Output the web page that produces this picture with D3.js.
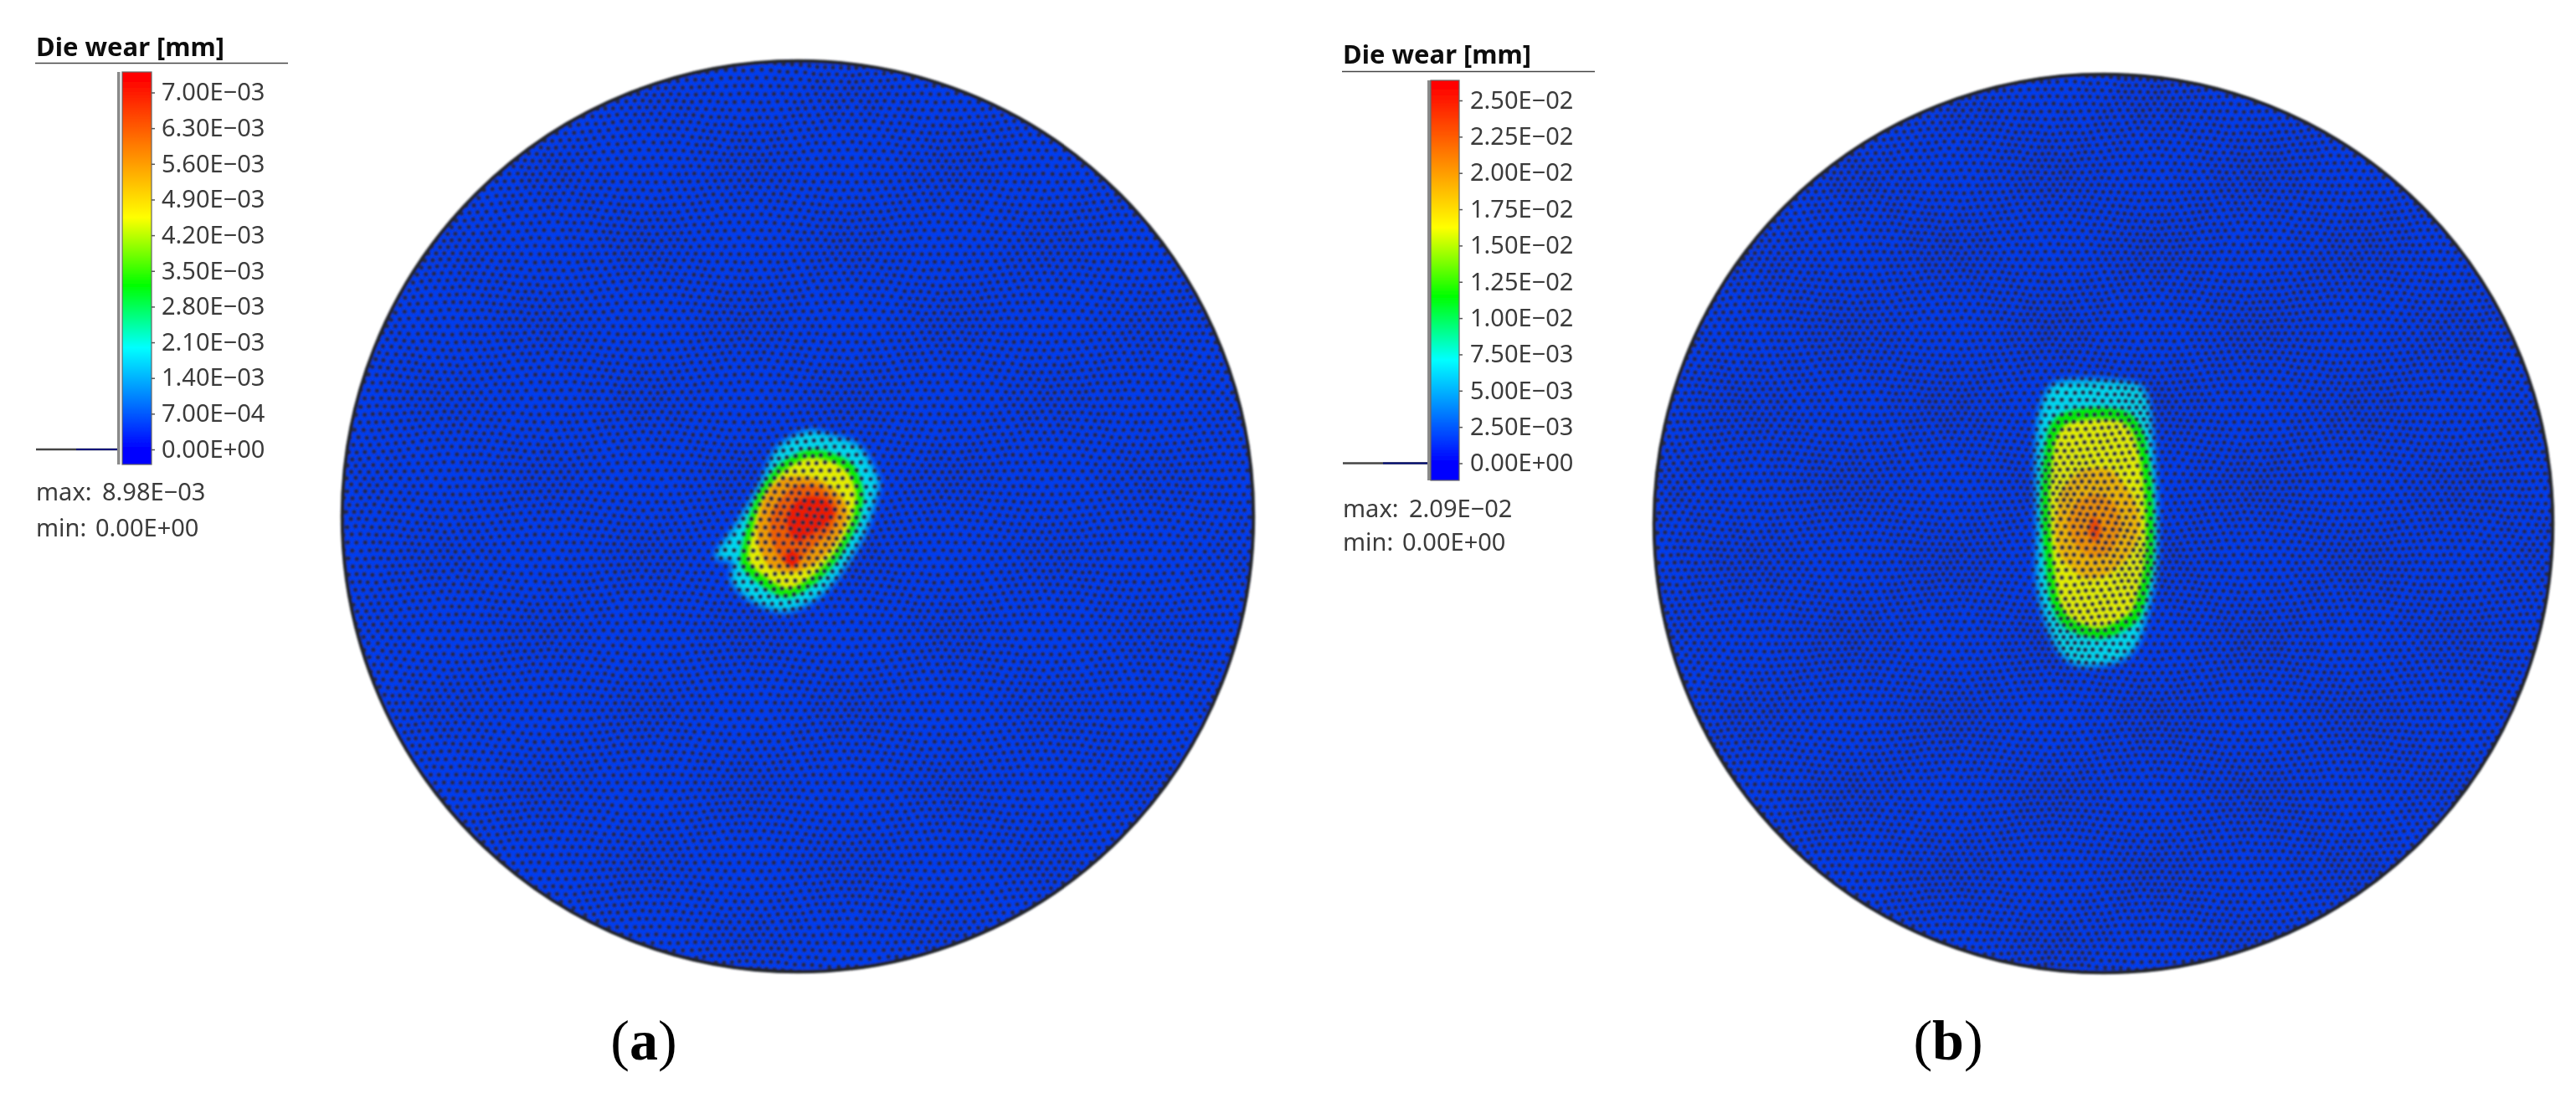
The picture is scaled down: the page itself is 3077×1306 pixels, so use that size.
<!DOCTYPE html>
<html>
<head>
<meta charset="utf-8">
<script src="https://cdn.jsdelivr.net/npm/d3@7"></script>
<style>
    html, body { margin: 0; padding: 0; background: #fff; }
    text { font-family: "Noto Sans", "Open Sans", sans-serif; }
</style>
</head>
<body>
<div id="main"></div>
<script>
// legend ticks in mm
var ticksA = [0, 7e-4, 1.4e-3, 2.1e-3, 2.8e-3, 3.5e-3, 4.2e-3, 4.9e-3, 5.6e-3, 6.3e-3, 7e-3];
var ticksB = [0, 2.5e-3, 5e-3, 7.5e-3, 1e-2, 1.25e-2, 1.5e-2, 1.75e-2, 2e-2, 2.25e-2, 2.5e-2];

// where blue, cyan, green, yellow, red sit on the bar, as a share of the top tick
var rampShares = [0, 0.285, 0.46, 0.65, 1.04];
var rampColors = ["#0000ff", "#00ffff", "#00ff00", "#ffff00", "#ff0000"];

var maxA = 8.98e-3, minA = 0, maxB = 2.09e-2, minB = 0;

// wear zones of die (a): [x, y] in mm from the disc centre, y up
var levelsA = [1.8e-3, 3.3e-3, 4.5e-3, 5.5e-3, 6.2e-3, 7e-3, 7e-3];
var zoneA1 = [[1.0,10.3],[4.0,9.8],[7.4,8.5],[9.7,4.5],[9.4,2.2],[8.0,-2.2],[5.4,-6.5],[2.4,-9.8],[-1.6,-11.5],[-5.6,-10.2],[-8.0,-7.8],[-7.8,-5.5],[-10.0,-4.8],[-7.6,-1.2],[-4.6,3.8],[-2.6,8.2]];
var zoneA2 = [[1.0,8.0],[4.0,7.7],[6.7,6.2],[7.9,3.0],[7.4,-0.3],[5.4,-4.3],[2.7,-7.6],[-1.0,-9.8],[-4.0,-8.6],[-6.8,-6.0],[-6.5,-2.6],[-5.0,2.4],[-2.3,6.2]];
var zoneA3 = [[1.0,7.0],[3.8,6.7],[6.0,5.3],[7.0,2.7],[6.5,-0.4],[4.7,-3.9],[2.2,-6.8],[-1.0,-8.7],[-3.5,-7.6],[-5.9,-5.4],[-5.6,-2.4],[-4.3,2.1],[-1.9,5.3]];
var zoneA4 = [[-1.6,4.7],[1.7,4.7],[4.5,3.2],[6.0,0.8],[5.1,-2.3],[2.5,-5.4],[-0.6,-6.8],[-3.4,-6.1],[-4.8,-3.4],[-4.8,-0.3],[-3.7,2.9]];
var zoneA5 = [[-0.5,3.6],[2.5,3.6],[4.8,1.4],[4.1,-1.6],[1.7,-3.8],[-0.2,-5.8],[-2.1,-5.2],[-3.3,-2.4],[-3.1,0.6]];
var zoneA6 = [[1.4,2.4],[3.4,2.0],[4.4,0.4],[3.4,-1.0],[1.4,-2.3],[0,-3.0],[-1.0,-2.0],[-1.3,0],[-0.3,1.7]];
var zoneA7 = [[-0.8,-4.0],[0.2,-4.9],[-0.5,-6.2],[-1.7,-5.2]];
var zonesA = [zoneA1, zoneA2, zoneA3, zoneA4, zoneA5, zoneA6, zoneA7];

// wear zones of die (b)
var levelsB = [6.4e-3, 1.15e-2, 1.6e-2, 1.85e-2, 2e-2, 2.3e-2];
var zoneB1 = [[-6.2,17.0],[-1.3,17.6],[4.4,16.9],[5.7,13.9],[6.2,8.1],[6.6,-0.5],[6.2,-7.3],[4.3,-14.4],[1.9,-16.8],[-2.8,-17.4],[-5.3,-15.8],[-7.0,-12.2],[-8.1,-7.3],[-8.1,-0.5],[-8.3,7.0],[-7.9,13.2]];
var zoneB2 = [[-5.0,13.5],[-1.3,14.2],[2.8,13.7],[4.9,11.1],[5.9,5.3],[6.2,-1.1],[5.9,-5.9],[4.5,-11.4],[2.1,-13.3],[-0.9,-14.1],[-4.7,-12.7],[-6.4,-9.7],[-7.2,-3.9],[-7.6,2.9],[-7.2,8.8],[-6.6,11.8]];
var zoneB3 = [[-4.4,12.2],[-1.3,12.8],[2.4,12.4],[4.0,10.1],[4.9,4.9],[5.2,-1.1],[4.9,-5.5],[3.6,-10.4],[1.6,-12.0],[-0.9,-12.8],[-4.1,-11.5],[-5.5,-9.0],[-6.2,-3.8],[-6.6,2.9],[-6.2,8.3],[-5.6,10.8]];
var zoneB4 = [[-1.3,6.8],[1.1,6.4],[3.7,3.1],[4.5,-0.5],[3.0,-4.1],[0.4,-6.3],[-2.3,-6.7],[-5.2,-4.1],[-5.9,-0.8],[-5.2,3.8],[-3.3,6.1]];
var zoneB5 = [[-0.9,3.6],[1.5,2.3],[2.1,-0.5],[1.1,-3.2],[-1.3,-4.2],[-3.3,-2.8],[-4.4,-0.1],[-3.3,2.6]];
var zoneB6 = [[-1.3,0.9],[-0.3,-0.5],[-0.9,-2.2],[-1.8,-1.1]];
var zonesB = [zoneB1, zoneB2, zoneB3, zoneB4, zoneB5, zoneB6];

var captions = ["a", "b"];

var panelA = {
    ticks: ticksA, levels: levelsA, zones: zonesA, max: maxA, min: minA,
    cx: 953, cy: 617, r: 545, spacing: 10,
    titleX: 43, titleY: 67, ruleY: 75.5, ruleX2: 344,
    stripX: 140, stripW: 3.5, barX: 146, barW: 35, barTop: 86, barBottom: 555,
    tickTop: 110.5, tickBottom: 537, tickPad: 8,
    maxY: 598, minY: 641, maxValX: 122, minValX: 114
};
var panelB = {
    ticks: ticksB, levels: levelsB, zones: zonesB, max: maxB, min: minB,
    cx: 2512.5, cy: 625.5, r: 537.5, spacing: 9.3,
    titleX: 1604, titleY: 76, ruleY: 85.5, ruleX2: 1905,
    stripX: 1705, stripW: 4, barX: 1709, barW: 34, barTop: 96, barBottom: 574,
    tickTop: 120, tickBottom: 553.5, tickPad: 9,
    maxY: 618, minY: 658, maxValX: 1683, minValX: 1675
};

var svg = d3.select("#main")
    .append("svg")
    .attr("width", 3077)
    .attr("height", 1306)
    .style("display", "block");

var defs = svg.append("defs");

function addBlur(id, dev) {
    defs.append("filter")
        .attr("id", id)
        .attr("x", "-10%").attr("y", "-10%").attr("width", "120%").attr("height", "120%")
        .append("feGaussianBlur")
        .attr("stdDeviation", dev);
}
addBlur("soft", 1.0);
addBlur("zoneOuter", 4.5);
addBlur("zone", 2);
addBlur("text", 0.35);

function sciLabel(v) {
    var parts = v.toExponential(2).split("e");
    var exp = +parts[1];
    var pad = Math.abs(exp) < 10 ? "0" : "";
    return parts[0] + "E" + (exp < 0 ? "\u2212" : "+") + pad + Math.abs(exp);
}

function drawLegend(p, color) {
    var top = p.ticks[p.ticks.length - 1];
    var y = d3.scaleLinear().domain([0, top]).range([p.tickBottom, p.tickTop]);
    var g = svg.append("g").attr("filter", "url(#text)");

    g.append("text")
        .attr("x", p.titleX).attr("y", p.titleY)
        .attr("font-size", 31).attr("font-weight", 700).attr("fill", "#111")
        .text("Die wear [mm]");

    g.append("line")
        .attr("x1", p.titleX - 1).attr("x2", p.ruleX2)
        .attr("y1", p.ruleY).attr("y2", p.ruleY)
        .attr("stroke", "#444").attr("stroke-width", 1.6);

    // colour bar, gradient stops come from the same ramp as the zones
    var gradId = "ramp" + p.barX;
    var grad = defs.append("linearGradient")
        .attr("id", gradId)
        .attr("gradientUnits", "userSpaceOnUse")
        .attr("x1", 0).attr("x2", 0)
        .attr("y1", p.barBottom).attr("y2", p.barTop);
    rampShares.forEach(function(s) {
        grad.append("stop")
            .attr("offset", (p.barBottom - y(s * top)) / (p.barBottom - p.barTop))
            .attr("stop-color", color(s * top));
    });

    g.append("rect")
        .attr("x", p.stripX).attr("y", p.barTop)
        .attr("width", p.stripW).attr("height", p.barBottom - p.barTop)
        .attr("fill", "#8a8a8a");
    g.append("rect")
        .attr("x", p.barX).attr("y", p.barTop)
        .attr("width", p.barW).attr("height", p.barBottom - p.barTop)
        .attr("fill", "url(#" + gradId + ")")
        .attr("stroke", "#666").attr("stroke-width", 1.2);

    // histogram spike at zero wear
    g.append("line")
        .attr("x1", p.titleX).attr("x2", p.stripX)
        .attr("y1", y(0)).attr("y2", y(0))
        .attr("stroke", "#444").attr("stroke-width", 2.6);
    g.append("line")
        .attr("x1", p.titleX + 48).attr("x2", p.stripX)
        .attr("y1", y(0)).attr("y2", y(0))
        .attr("stroke", "#00107a").attr("stroke-width", 2);

    var axis = d3.axisRight(y)
        .tickValues(p.ticks)
        .tickFormat(sciLabel)
        .tickSize(4)
        .tickPadding(p.tickPad);
    var ag = g.append("g")
        .attr("transform", "translate(" + (p.barX + p.barW) + ",0)")
        .call(axis);
    ag.select(".domain").remove();
    ag.selectAll("line").attr("stroke", "#555").attr("stroke-width", 1.5);
    ag.selectAll("text")
        .attr("fill", "#3a3a3a")
        .attr("font-size", 29)
        .style("font-family", '"Noto Sans", sans-serif');

    [["max:", p.max, p.maxY, p.maxValX], ["min:", p.min, p.minY, p.minValX]].forEach(function(row) {
        g.append("text")
            .attr("x", p.titleX).attr("y", row[2])
            .attr("font-size", 29).attr("fill", "#3a3a3a")
            .text(row[0]);
        g.append("text")
            .attr("x", row[3]).attr("y", row[2])
            .attr("font-size", 29).attr("fill", "#3a3a3a")
            .text(sciLabel(row[1]));
    });
}

function drawDisc(p, color) {
    var top = p.ticks[p.ticks.length - 1];
    // disc is 110 mm across
    var x = d3.scaleLinear().domain([-55, 55]).range([p.cx - p.r, p.cx + p.r]);
    var y = d3.scaleLinear().domain([-55, 55]).range([p.cy + p.r, p.cy - p.r]);

    var clipId = "clip" + p.barX;
    defs.append("clipPath").attr("id", clipId)
        .append("circle").attr("cx", p.cx).attr("cy", p.cy).attr("r", p.r);

    var disc = svg.append("g").attr("filter", "url(#soft)");
    var inner = disc.append("g").attr("clip-path", "url(#" + clipId + ")");

    inner.append("circle")
        .attr("cx", p.cx).attr("cy", p.cy).attr("r", p.r)
        .attr("fill", color(0.07 * top));

    var outline = d3.line()
        .x(function(d) { return x(d[0]); })
        .y(function(d) { return y(d[1]); })
        .curve(d3.curveCardinalClosed.tension(0.2));

    inner.append("g")
        .selectAll("path")
        .data(p.zones)
        .enter()
        .append("path")
        .attr("d", outline)
        .attr("fill", function(d, i) { return color(p.levels[i]); })
        .attr("filter", function(d, i) { return i === 0 ? "url(#zoneOuter)" : "url(#zone)"; });

    // faint veil for the mesh edges that dull every colour on the disc
    inner.append("circle")
        .attr("cx", p.cx).attr("cy", p.cy).attr("r", p.r)
        .attr("fill", "#14182e")
        .attr("fill-opacity", 0.08);

    // mesh nodes: hex lattice bent in patches so it does not look regular
    var path = d3.path();
    var rowH = p.spacing * 0.866;
    d3.range(-p.r - 20, p.r + 20, rowH).forEach(function(ry, row) {
        d3.range(-p.r - 20, p.r + 20, p.spacing).forEach(function(rx) {
            var ox = rx + (row % 2 ? p.spacing / 2 : 0);
            var bx = ox + 3.5 * Math.sin(ry / 31) * Math.cos(ox / 43) + 0.7 * Math.sin(ox / 7.3) * Math.cos(ry / 11.9);
            var by = ry + 3.5 * Math.sin(ox / 37) * Math.cos(ry / 29) + 0.7 * Math.sin(ry / 9.1) * Math.cos(ox / 6.7);
            if (bx * bx + by * by < p.r * p.r) {
                path.moveTo(p.cx + bx + 2.9, p.cy + by);
                path.arc(p.cx + bx, p.cy + by, 2.9, 0, 2 * Math.PI);
            }
        });
    });
    inner.append("path")
        .attr("d", path.toString())
        .attr("fill", "#262a44")
        .attr("fill-opacity", 0.95);

    disc.append("circle")
        .attr("cx", p.cx).attr("cy", p.cy).attr("r", p.r - 1)
        .attr("fill", "none")
        .attr("stroke", "#23252f")
        .attr("stroke-width", 4.5);
}

[panelA, panelB].forEach(function(p) {
    var top = p.ticks[p.ticks.length - 1];
    var color = d3.scaleLinear()
        .domain(rampShares.map(function(s) { return s * top; }))
        .range(rampColors)
        .clamp(true);
    drawLegend(p, color);
    drawDisc(p, color);
});

// sub-figure captions
var capX = d3.scaleOrdinal().domain(captions).range([769, 2327]);
captions.forEach(function(c) {
    var t = svg.append("text")
        .attr("x", capX(c)).attr("y", 1266)
        .attr("text-anchor", "middle")
        .attr("font-size", 68)
        .attr("fill", "#000")
        .style("font-family", '"Liberation Serif", serif');
    t.append("tspan").text("(");
    t.append("tspan").attr("font-weight", 700).text(c);
    t.append("tspan").text(")");
});
</script>
</body>
</html>
